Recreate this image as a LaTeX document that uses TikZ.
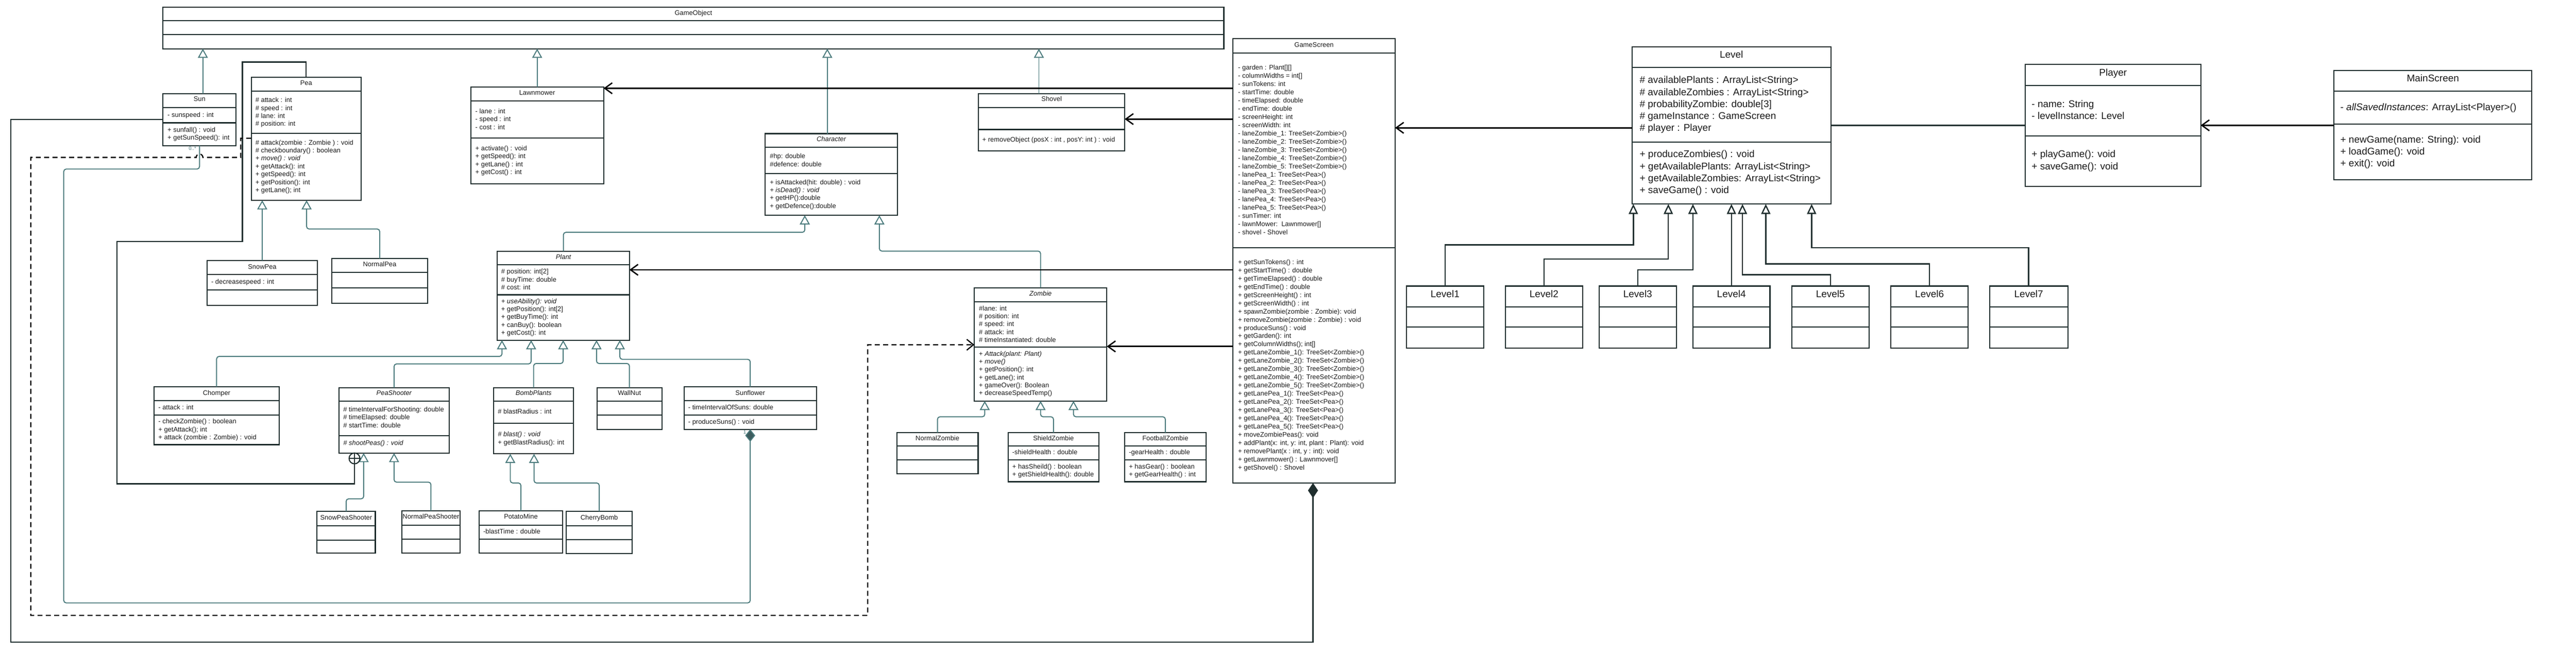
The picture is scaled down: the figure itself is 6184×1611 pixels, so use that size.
\documentclass[tikz,border=0pt]{standalone}
\usepackage{fontspec}
\setmainfont{Liberation Sans}
\usetikzlibrary{arrows.meta}
\definecolor{boxc}{HTML}{1F2E2E}
\definecolor{tealc}{HTML}{4A7A7C}
\definecolor{dteal}{HTML}{3D5C5E}
\definecolor{txtc}{HTML}{1A1A1A}
\tikzset{
 clsbox/.style={draw=boxc,line width=2.6pt,fill=white,inner sep=0pt,outer sep=0pt},
 divl/.style={draw=boxc,line width=2.6pt},
 ttl/.style={font=\fontsize{16}{19}\selectfont,text=txtc,anchor=mid,inner sep=0pt},
 ittl/.style={ttl,font=\fontsize{16}{19}\selectfont\itshape},
 txt/.style={font=\fontsize{16}{19}\selectfont,text=txtc,anchor=north west,align=left,inner sep=0pt},
 gtxt/.style={font=\fontsize{16}{19.75}\selectfont,text=txtc,anchor=north west,align=left,inner sep=0pt},
 bttl/.style={font=\fontsize{23.5}{28.7}\selectfont,text=txtc,anchor=mid,inner sep=0pt},
 btxt/.style={font=\fontsize{23.5}{28.7}\selectfont,text=txtc,anchor=north west,align=left,inner sep=0pt},
 inh/.style={draw=tealc,line width=2.4pt,rounded corners=6pt,-{Triangle[length=22pt,width=24pt,fill=white]}},
 linh/.style={draw=boxc,line width=3pt,-{Triangle[length=24pt,width=22pt,fill=white]}},
 assoc/.style={draw=black,line width=3.2pt,-{Straight Barb[length=18pt,width=26pt]}},
 plainl/.style={draw=boxc,line width=4pt},
 compb/.style={draw=boxc,line width=3pt,{Diamond[length=36pt,width=24pt,fill=boxc]}-},
 compt/.style={draw=tealc,line width=2.4pt,rounded corners=6pt,{Diamond[length=30pt,width=24pt,fill=dteal]}-},
 nest/.style={draw=boxc,line width=3pt},
 dep/.style={draw=black,line width=2.8pt,dash pattern=on 12pt off 8pt,-{Straight Barb[length=16pt,width=26pt]}},
 lbl/.style={font=\fontsize{12}{14}\selectfont,text=tealc,inner sep=0pt},
}
\newcommand{\umlc}[7]{%
  \pgfmathsetmacro{\ucw}{#4-#2}\pgfmathsetmacro{\uch}{#5-#3}%
  \node[clsbox,minimum width=\ucw pt,minimum height=\uch pt] (#1) at ({(#2+#4)/2},{(#3+#5)/2}) {};
  \draw[divl] (#2,#6) -- (#4,#6);
  \draw[divl] (#2,#7) -- (#4,#7);
}
\begin{document}
\begin{tikzpicture}[x=1pt,y=-1pt]
\fill[white] (0,0) rectangle (6184,1611);
\useasboundingbox (0,0) rectangle (6184,1611);

% ---------- classes ----------
\umlc{go}{391}{17}{2938}{117}{50}{83}
\umlc{sun}{391}{225}{567}{350}{259}{295}
\umlc{pea}{603}{186}{867}{481}{219}{320}
\umlc{lawnmower}{1130}{209}{1449}{442}{242}{332}
\umlc{character}{1837}{321}{2154}{517}{354}{417}
\umlc{shovel}{2349}{225}{2700}{362}{258}{311}
\umlc{gamescreen}{2960}{93}{3349}{1160}{127}{595}
\umlc{level}{3918}{112}{4395}{490}{162}{341}
\umlc{player}{4862}{155}{5283}{448}{205}{326}
\umlc{mainscreen}{5603}{169}{6078}{432}{219}{298}
\umlc{level1}{3376}{687}{3562}{836}{737}{785}
\umlc{level2}{3614}{687}{3799}{836}{737}{785}
\umlc{level3}{3839}{687}{4024}{836}{737}{785}
\umlc{level4}{4064}{687}{4249}{836}{737}{785}
\umlc{level5}{4301}{687}{4487}{836}{737}{785}
\umlc{level6}{4539}{687}{4725}{836}{737}{785}
\umlc{level7}{4776}{687}{4964}{836}{737}{785}
\umlc{plant}{1194}{603}{1511}{817}{636}{708}
\umlc{zombie}{2339}{691}{2657}{963}{725}{834}
\umlc{snowpea}{497}{626}{762}{733}{659}{696}
\umlc{normalpea}{797}{621}{1026}{729}{654}{691}
\umlc{chomper}{370}{929}{670}{1068}{962}{997}
\umlc{peashooter}{814}{931}{1078}{1088}{963}{1046}
\umlc{bombplants}{1185}{931}{1377}{1090}{963}{1017}
\umlc{wallnut}{1433}{931}{1589}{1032}{963}{997}
\umlc{sunflower}{1642}{929}{1960}{1031}{962}{997}
\umlc{normalzombie}{2153}{1039}{2348}{1138}{1071}{1105}
\umlc{shieldzombie}{2420}{1039}{2638}{1157}{1071}{1105}
\umlc{footballzombie}{2700}{1039}{2895}{1157}{1071}{1105}
\umlc{snowpeashooter}{761}{1228}{901}{1328}{1263}{1297}
\umlc{normalpeashooter}{965}{1227}{1104}{1328}{1261}{1295}
\umlc{potatomine}{1150}{1227}{1351}{1328}{1261}{1295}
\umlc{cherrybomb}{1359}{1228}{1518}{1330}{1263}{1296}

% ---------- texts ----------
\node[ttl] (go-t) at (1664.5,34) {GameObject};

\node[ttl] (sun-t) at (479,241) {Sun};
\node[txt] (sun-a) at (402,269) {- sunspeed : int};
\node[txt] (sun-m) at (402,305) {+ sunfall() : void\\+ getSunSpeed(): int};

\node[ttl] (pea-t) at (735,202) {Pea};
\node[txt] (pea-a) at (613,234) {\# attack : int\\\# speed : int\\\# lane: int\\\# position: int};
\node[txt] (pea-m) at (613,336) {\# attack(zombie : Zombie ) : void\\\# checkboundary() : boolean\\\textit{+ move() : void}\\+ getAttack(): int\\+ getSpeed(): int\\+ getPosition(): int\\+ getLane(); int};

\node[ttl] (lm-t) at (1289.5,225) {Lawnmower};
\node[txt] (lm-a) at (1141,261) {- lane : int\\- speed : int\\- cost : int};
\node[txt] (lm-m) at (1141,350) {+ activate() : void\\+ getSpeed(): int\\+ getLane() : int\\+ getCost() : int};

\node[ittl] (ch-t) at (1995.5,337) {Character};
\node[txt] (ch-a) at (1848,369) {\#hp: double\\\#defence: double};
\node[txt] (ch-m) at (1848,431) {+ isAttacked(hit: double) : void\\\textit{+ isDead() : void}\\+ getHP():double\\+ getDefence():double};

\node[ttl] (sh-t) at (2524.5,241) {Shovel};
\node[txt] (sh-m) at (2358,329) {+ removeObject (posX : int , posY: int ) : void};

\node[ttl] (gs-t) at (3154.5,110) {GameScreen};
\node[gtxt] (gs-a) at (2972,156) {- garden : Plant[][]\\- columnWidths = int[]\\- sunTokens: int\\- startTime: double\\- timeElapsed: double\\- endTime: double\\- screenHeight: int\\- screenWidth: int\\- laneZombie\_1: TreeSet<Zombie>()\\- laneZombie\_2: TreeSet<Zombie>()\\- laneZombie\_3: TreeSet<Zombie>()\\- laneZombie\_4: TreeSet<Zombie>()\\- laneZombie\_5: TreeSet<Zombie>()\\- lanePea\_1: TreeSet<Pea>()\\- lanePea\_2: TreeSet<Pea>()\\- lanePea\_3: TreeSet<Pea>()\\- lanePea\_4: TreeSet<Pea>()\\- lanePea\_5: TreeSet<Pea>()\\- sunTimer: int\\- lawnMower:\ \ Lawnmower[]\\- shovel - Shovel};
\node[gtxt] (gs-m) at (2972,623) {+ getSunTokens() : int\\+ getStartTime() : double\\+ getTimeElapsed() : double\\+ getEndTime() : double\\+ getScreenHeight() : int\\+ getScreenWidth() : int\\+ spawnZombie(zombie : Zombie): void\\+ removeZombie(zombie : Zombie) : void\\+ produceSuns() : void\\+ getGarden(): int\\+ getColumnWidths(); int[]\\+ getLaneZombie\_1(): TreeSet<Zombie>()\\+ getLaneZombie\_2(): TreeSet<Zombie>()\\+ getLaneZombie\_3(): TreeSet<Zombie>()\\+ getLaneZombie\_4(): TreeSet<Zombie>()\\+ getLaneZombie\_5(): TreeSet<Zombie>()\\+ getLanePea\_1(): TreeSet<Pea>()\\+ getLanePea\_2(): TreeSet<Pea>()\\+ getLanePea\_3(): TreeSet<Pea>()\\+ getLanePea\_4(): TreeSet<Pea>()\\+ getLanePea\_5(): TreeSet<Pea>()\\+ moveZombiePeas(): void\\+ addPlant(x: int, y: int, plant : Plant): void\\+ removePlant(x : int, y : int): void\\+ getLawnmower() : Lawnmover[]\\+ getShovel() : Shovel};

\node[bttl] (lv-t) at (4156.5,137) {Level};
\node[btxt] (lv-a) at (3936,183) {\# availablePlants : ArrayList<String>\\\# availableZombies : ArrayList<String>\\\# probabilityZombie: double[3]\\\# gameInstance : GameScreen\\\# player : Player};
\node[btxt] (lv-m) at (3936,361) {+ produceZombies() : void\\+ getAvailablePlants: ArrayList<String>\\+ getAvailableZombies: ArrayList<String>\\+ saveGame() : void};

\node[bttl] (py-t) at (5072.5,180) {Player};
\node[btxt] (py-a) at (4877,241) {- name: String\\- levelInstance: Level};
\node[btxt] (py-m) at (4877,361) {+ playGame(): void\\+ saveGame(): void};

\node[bttl] (ms-t) at (5840.5,194) {MainScreen};
\node[btxt] (ms-a) at (5618,248) {- \textit{allSavedInstances}: ArrayList<Player>()};
\node[btxt] (ms-m) at (5618,326) {+ newGame(name: String): void\\+ loadGame(): void\\+ exit(): void};

\node[bttl] (l1-t) at (3469,711) {Level1};
\node[bttl] (l2-t) at (3706.5,711) {Level2};
\node[bttl] (l3-t) at (3931.5,711) {Level3};
\node[bttl] (l4-t) at (4156.5,711) {Level4};
\node[bttl] (l5-t) at (4394,711) {Level5};
\node[bttl] (l6-t) at (4632,711) {Level6};
\node[bttl] (l7-t) at (4870,711) {Level7};

\node[ittl] (pt-t) at (1352.5,620) {Plant};
\node[txt] (pt-a) at (1203,646) {\# position: int[2]\\\# buyTime: double\\\# cost: int};
\node[txt] (pt-m) at (1203,717) {\textit{+ useAbility(): void}\\+ getPosition(): int[2]\\+ getBuyTime(): int\\+ canBuy(): boolean\\+ getCost(): int};

\node[ittl] (zm-t) at (2498,708) {Zombie};
\node[txt] (zm-a) at (2350,734) {\#lane: int\\\# position: int\\\# speed: int\\\# attack: int\\\# timeInstantiated: double};
\node[txt] (zm-m) at (2350,843) {+ \textit{Attack(plant: Plant)}\\+ \textit{move()}\\+ getPosition(): int\\+ getLane(); int\\+ gameOver(): Boolean\\+ decreaseSpeedTemp()};

\node[ttl] (sp-t) at (629.5,643) {SnowPea};
\node[txt] (sp-a) at (507,670) {- decreasespeed : int};
\node[ttl] (np-t) at (911.5,638) {NormalPea};

\node[ttl] (cp-t) at (520,946) {Chomper};
\node[txt] (cp-a) at (380,972) {- attack : int};
\node[txt] (cp-m) at (380,1006) {- checkZombie() : boolean\\+ getAttack(); int\\+ attack (zombie : Zombie) : void};

\node[ittl] (ps-t) at (946,947) {PeaShooter};
\node[txt] (ps-a) at (824,977) {\# timeIntervalForShooting: double\\\# timeElapsed: double\\\# startTime: double};
\node[txt] (ps-m) at (824,1058) {\textit{\# shootPeas() : void}};

\node[ittl] (bp-t) at (1281,947) {BombPlants};
\node[txt] (bp-a) at (1195,982) {\# blastRadius : int};
\node[txt] (bp-m) at (1195,1037) {\textit{\# blast() : void}\\+ getBlastRadius(): int};

\node[ttl] (wn-t) at (1511,947) {WallNut};

\node[ttl] (sf-t) at (1801,946) {Sunflower};
\node[txt] (sf-a) at (1652,972) {- timeIntervalOfSuns: double};
\node[txt] (sf-m) at (1652,1007) {- produceSuns() : void};

\node[ttl] (nz-t) at (2250.5,1055) {NormalZombie};
\node[ttl] (sz-t) at (2529,1055) {ShieldZombie};
\node[txt] (sz-a) at (2430,1080) {-shieldHealth : double};
\node[txt] (sz-m) at (2430,1114) {+ hasSheild() : boolean\\+ getShieldHealth(): double};
\node[ttl] (fz-t) at (2797.5,1055) {FootballZombie};
\node[txt] (fz-a) at (2710,1080) {-gearHealth : double};
\node[txt] (fz-m) at (2710,1114) {+ hasGear() : boolean\\+ getGearHealth() : int};

\node[ttl] (sps-t) at (831,1245.5) {SnowPeaShooter};
\node[ttl] (nps-t) at (1034.5,1244) {NormalPeaShooter};
\node[ttl] (pm-t) at (1250.5,1244) {PotatoMine};
\node[txt] (pm-a) at (1160,1270) {-blastTime : double};
\node[ttl] (cb-t) at (1438.5,1245.5) {CherryBomb};

% ---------- attachment coordinates ----------
\coordinate (goS1) at (487,117);
\coordinate (goS3) at (1986,117);
\coordinate (goS4) at (2494,117);
\coordinate (sunN) at (487,225);
\coordinate (charN) at (1986,321);
\coordinate (shovN) at (2494,225);
\coordinate (chS1) at (1932,517);
\coordinate (chS2) at (2111,517);
\coordinate (peaS1) at (629.5,481);
\coordinate (peaS2) at (736,481);
\coordinate (pS1) at (1205,817);
\coordinate (pS2) at (1275,817);
\coordinate (pS3) at (1352,817);
\coordinate (pS4) at (1432,817);
\coordinate (pS5) at (1488,817);
\coordinate (zS1) at (2364,963);
\coordinate (zS2) at (2498,963);
\coordinate (zS3) at (2577,963);
\coordinate (psS1) at (873,1088);
\coordinate (psS2) at (946,1088);
\coordinate (bpS1) at (1225,1090);
\coordinate (bpS2) at (1282,1090);
\coordinate (lvS1) at (3921,490);
\coordinate (lvS2) at (4005,490);
\coordinate (lvS3) at (4064,490);
\coordinate (lvS4) at (4156.5,490);
\coordinate (lvS5) at (4183,490);
\coordinate (lvS6) at (4239,490);
\coordinate (lvS7) at (4349,490);
\coordinate (gsL1) at (2960,212);
\coordinate (lmR) at (1449,212);
\coordinate (gsL2) at (2960,286);
\coordinate (shR) at (2700,286);
\coordinate (gsL3) at (2960,648);
\coordinate (ptR) at (1511,648);
\coordinate (gsL4) at (2960,832);
\coordinate (zmR) at (2657,832);
\coordinate (lvL) at (3918,307);
\coordinate (gsR) at (3349,307);
\coordinate (lvR) at (4395,301);
\coordinate (pyL) at (4862,301);
\coordinate (msL) at (5603,301);
\coordinate (pyR) at (5283,301);
\coordinate (gsB) at (3152,1160);
\coordinate (sunW) at (391,287);
\coordinate (peaW) at (603,332);
\coordinate (zmL) at (2339,828);

% ---------- generalisations ----------
\draw[inh] (sunN) -- (goS1);
\draw[inh] (lawnmower.north) -- (lawnmower.north |- go.south);
\draw[inh] (charN) -- (goS3);
\draw[inh] (shovN) -- (goS4);
\draw[inh] (plant.north) -- (1352.5,558) -| (chS1);
\draw[inh] (zombie.north) -- (2498,603) -| (chS2);
\draw[inh] (snowpea.north) -- (peaS1);
\draw[inh] (normalpea.north) -- (911.5,550) -| (peaS2);
\draw[inh] (chomper.north) -- (520,856) -| (pS1);
\draw[inh] (peashooter.north) -- (946,874) -| (pS2);
\draw[inh] (bombplants.north) -- (1281,873) -| (pS3);
\draw[inh] (wallnut.north) -- (1511,873) -| (pS4);
\draw[inh] (sunflower.north) -- (1801,863) -| (pS5);
\draw[inh] (normalzombie.north) -- (2250.5,1001) -| (zS1);
\draw[inh] (shieldzombie.north) -- (2529,1001) -| (zS2);
\draw[inh] (footballzombie.north) -- (2797.5,1001) -| (zS3);
\draw[inh] (snowpeashooter.north) -- (831,1198) -| (psS1);
\draw[inh] (normalpeashooter.north) -- (1034.5,1158) -| (psS2);
\draw[inh] (potatomine.north) -- (1250.5,1160) -| (bpS1);
\draw[inh] (cherrybomb.north) -- (1438.5,1160) -| (bpS2);

\draw[linh] (level1.north) -- (3469,588) -| (lvS1);
\draw[linh] (level2.north) -- (3706.5,622) -| (lvS2);
\draw[linh] (level3.north) -- (3931.5,648) -| (lvS3);
\draw[linh] (level4.north) -- (lvS4);
\draw[linh] (level5.north) -- (4394,660) -| (lvS5);
\draw[linh] (level6.north) -- (4632,634) -| (lvS6);
\draw[linh] (level7.north) -- (4870,595) -| (lvS7);

% ---------- associations ----------
\draw[assoc] (gsL1) -- (lmR);
\draw[assoc] (gsL2) -- (shR);
\draw[assoc] (gsL3) -- (ptR);
\draw[assoc] (gsL4) -- (zmR);
\draw[assoc] (lvL) -- (gsR);
\draw[plainl] (lvR) -- (pyL);
\draw[assoc] (msL) -- (pyR);

% ---------- compositions ----------
\draw[compb] (gsB) -- (3152,1542) -- (26,1542) -- (26,287) -- (sunW);
\draw[compt] (sunflower.south) -- (1801,1448) -- (153,1448) -- (153,406) -- (479,406) -- (sun.south);
\node[lbl] (m0) at (462,357) {0..*};
\node[lbl] (m1) at (1788,1038) {1};

% ---------- nesting (Pea inside PeaShooter) ----------
\node[circle,draw=boxc,line width=2.6pt,minimum size=26pt,inner sep=0pt,fill=white] (nestc) at (851,1101) {};
\draw[nest] (nestc.north) -- (nestc.south);
\draw[nest] (nestc.west) -- (nestc.east);
\draw[nest] (nestc.south) -- (851,1162) -- (281,1162) -- (281,580) -- (582,580) -- (582,149) -- (735,149) -- (pea.north);

% ---------- dependency Pea -> Zombie ----------
\draw[dep] (peaW) -- (578,332) -- (578,378) -- (487,378) arc[start angle=0,end angle=-180,radius=8] -- (74,378) -- (74,1478) -- (2083,1478) -- (2083,828) -- (zmL);

\end{tikzpicture}
\end{document}
